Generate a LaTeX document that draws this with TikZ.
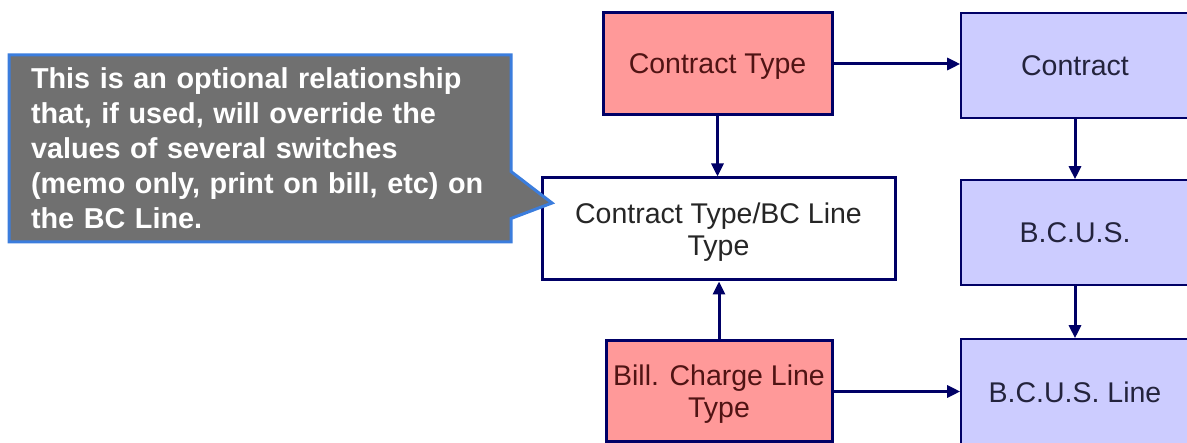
\documentclass[tikz,border=0pt]{standalone}
\usepackage{fontspec}
\setmainfont{Liberation Sans}
\usepackage{tikz}
\usetikzlibrary{shapes.callouts}
\usetikzlibrary{arrows.meta}
\definecolor{salmon}{RGB}{255,153,153}
\definecolor{lavender}{RGB}{204,204,255}
\definecolor{navy}{RGB}{0,0,102}
\definecolor{typetext}{RGB}{80,20,20}
\definecolor{entitytext}{RGB}{35,35,60}
\definecolor{notegray}{RGB}{112,112,112}
\definecolor{noteblue}{RGB}{59,125,221}

\begin{document}
\begin{tikzpicture}[x=1pt, y=-1pt,
    box/.style={draw=navy, align=center, inner sep=0pt, text depth=0pt, font=\fontsize{28.5}{32}\selectfont},
    typebox/.style={box, line width=3pt, fill=salmon, text=typetext},
    linkbox/.style={box, line width=3pt, fill=white, text=black!85},
    entitybox/.style={box, line width=1.6pt, fill=lavender, text=entitytext, minimum width=228pt},
    arr/.style={draw=navy, line width=3pt, -{Triangle[length=13pt,width=12pt]}}]
    \useasboundingbox (0,0) rectangle (1187,443);
    \node[typebox, minimum width=229pt, minimum height=102pt] (ctype) at (717.5,64) {Contract Type};
    \node[linkbox, minimum width=353pt, minimum height=102pt] (ctbc) at (718.5,229) {Contract Type/BC Line\\Type};
    \node[typebox, minimum width=226pt, minimum height=101pt] (bill) at (719,391.5) {Bill. Charge Line\\Type};
    \foreach \name/\ypos/\boxht/\txt in {contract/65.5/105/Contract, bcus/232.5/105/B.C.U.S., bcusline/392/106/B.C.U.S. Line} {
        \node[entitybox, minimum height=\boxht pt] (\name) at (1075,\ypos) {\txt};
    }
    \coordinate (tip) at (552,203);
    \node[rectangle callout, callout absolute pointer=(tip), callout pointer width=47pt,
        fill=notegray, draw=noteblue, line width=3pt,
        minimum width=502pt, minimum height=187pt, text width=458pt, inner xsep=22pt,
        align=left, text=white, font=\fontsize{28.8}{35}\bfseries\selectfont] (note) at (260,148.5)
        {This is an optional relationship\\that, if used, will override the\\values of several switches\\(memo only, print on bill, etc) on\\the BC Line.};
    \draw[arr] (ctype.south) -- (ctype.south |- ctbc.north);
    \draw[arr] (ctype.east) -- (ctype.east -| contract.west);
    \draw[arr] (contract.south) -- (contract.south |- bcus.north);
    \draw[arr] (bcus.south) -- (bcus.south |- bcusline.north);
    \draw[arr] (bill.north) -- (bill.north |- ctbc.south);
    \draw[arr] (bill.east) -- (bill.east -| bcusline.west);
\end{tikzpicture}
\end{document}
